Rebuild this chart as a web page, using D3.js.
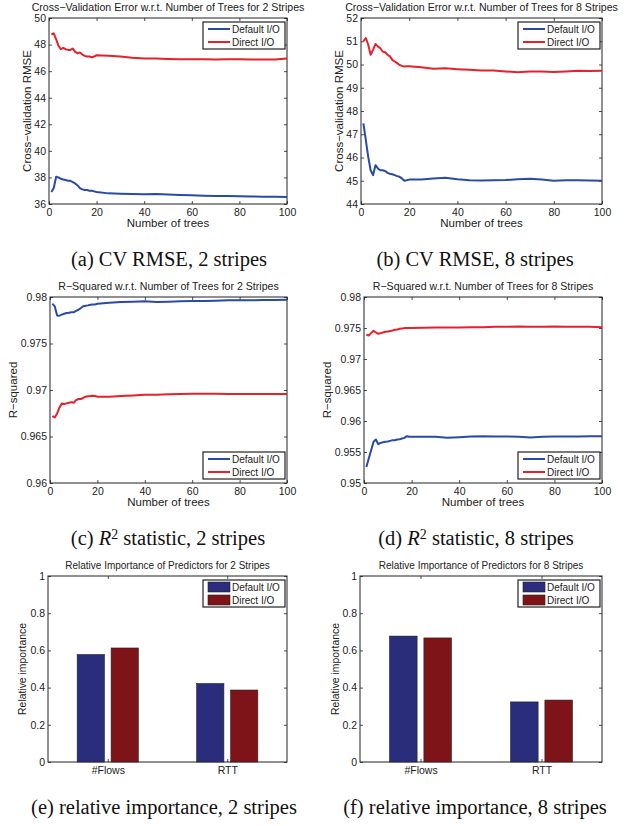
<!DOCTYPE html>
<html>
<head>
<meta charset="utf-8">
<script src="https://cdn.jsdelivr.net/npm/d3@7"></script>
<style>
  body { margin: 0; background: #fff; }
  svg { display: block; }
  .tick text { font-family: "Liberation Sans", Arial, sans-serif; fill: #222; }
  .domain { display: none; }
  .tick line { stroke: #222; stroke-width: 0.8; }
</style>
</head>
<body>
<script>
var trees = [1,2,3,4,5,6,7,8,9,10,11,12,13,14,15,16,17,18,19,20,25,30,35,40,45,50,55,60,65,70,75,80,85,90,95,100];

// (a) CV RMSE, 2 stripes
var rmse2Default = [36.9,37.2,38.05,38.0,37.9,37.85,37.8,37.75,37.75,37.65,37.55,37.4,37.2,37.1,37.05,37.05,37.0,37.0,36.95,36.9,36.8,36.78,36.75,36.73,36.75,36.72,36.68,36.65,36.62,36.6,36.6,36.58,36.57,36.55,36.55,36.52];
var rmse2Direct = [48.75,48.85,48.4,47.9,47.65,47.75,47.65,47.6,47.6,47.7,47.45,47.35,47.4,47.25,47.15,47.1,47.1,47.05,47.1,47.2,47.15,47.1,47.0,46.95,46.95,46.92,46.9,46.9,46.9,46.88,46.9,46.9,46.88,46.87,46.88,46.95];

// (b) CV RMSE, 8 stripes
var rmse8Default = [47.47,46.75,46.03,45.45,45.24,45.67,45.53,45.45,45.45,45.42,45.34,45.3,45.28,45.24,45.2,45.17,45.1,45.0,45.02,45.05,45.05,45.1,45.13,45.06,45.02,45.01,45.02,45.03,45.06,45.09,45.05,45.0,45.02,45.02,45.01,45.0];
var rmse8Direct = [51.0,51.14,50.85,50.42,50.63,50.88,50.78,50.7,50.56,50.53,50.42,50.35,50.2,50.13,50.06,49.98,49.94,49.91,49.92,49.92,49.88,49.82,49.84,49.8,49.77,49.74,49.74,49.7,49.67,49.7,49.7,49.68,49.7,49.73,49.72,49.73];

// (c) R-squared, 2 stripes
var r2s2Default = [0.97928,0.9790,0.97802,0.97799,0.9781,0.9782,0.97827,0.9783,0.97835,0.97835,0.9785,0.97863,0.97881,0.979,0.97906,0.9791,0.97917,0.9792,0.9792,0.97928,0.97939,0.97946,0.9795,0.97953,0.97946,0.9795,0.97953,0.97957,0.97957,0.9796,0.97964,0.97964,0.97964,0.97968,0.97968,0.97971];
var r2s2Direct = [0.96719,0.96705,0.96748,0.96813,0.96856,0.96849,0.96856,0.96863,0.9687,0.96863,0.96892,0.96903,0.96903,0.96914,0.96928,0.96932,0.96935,0.96939,0.96935,0.96928,0.96928,0.96935,0.96942,0.9695,0.9695,0.96953,0.96957,0.9696,0.9696,0.9696,0.96957,0.96957,0.96957,0.96957,0.96957,0.96957];

// (d) R-squared, 8 stripes
var r2s8Default = [0.95259,0.95394,0.95529,0.95664,0.95701,0.95626,0.95647,0.95658,0.95664,0.95669,0.9568,0.95691,0.95691,0.95701,0.95707,0.95718,0.95728,0.95755,0.95745,0.95745,0.95745,0.95745,0.95728,0.95739,0.9575,0.95755,0.9575,0.9575,0.95745,0.95734,0.95745,0.9575,0.9575,0.9575,0.95755,0.95755];
var r2s8Direct = [0.9739,0.97379,0.97417,0.97455,0.97428,0.97406,0.97417,0.97428,0.97439,0.97444,0.9745,0.9746,0.97471,0.97477,0.97487,0.97493,0.97498,0.97498,0.97498,0.97498,0.97504,0.9751,0.9751,0.9751,0.97514,0.97514,0.9752,0.9752,0.97525,0.9752,0.9752,0.97525,0.9752,0.9752,0.9752,0.97514];

// (e)/(f) relative importance of predictors
var predictors = ["#Flows", "RTT"];
var imp2Default = [0.578, 0.422];
var imp2Direct = [0.613, 0.387];
var imp8Default = [0.677, 0.323];
var imp8Direct = [0.667, 0.333];

var seriesNames = ["Default I/O", "Direct I/O"];
var lineColors = ["#2a4aa6", "#e8202a"];
var barColors = ["#2a2c7c", "#7f1418"];

var sans = "'Liberation Sans', Arial, sans-serif";
var serif = "'Liberation Serif', 'Times New Roman', serif";

var svg = d3.select("body").append("svg")
	.attr("width", 629)
	.attr("height", 826);

var fmt = function(d) { return String(+d.toFixed(4)); };

// draws the frame, mirrored ticks and labels of one panel
var drawFrame = function(g, x, y, o) {
	var x0 = x.range()[0], x1 = x.range()[1];
	var y0 = y.range()[0], y1 = y.range()[1];

	g.append("g")
		.attr("transform", "translate(0," + y0 + ")")
		.call(o.xAxis.tickSizeInner(-3).tickSizeOuter(0).tickPadding(5))
		.selectAll("text").style("font-size", o.tickFont + "px");
	g.append("g")
		.attr("transform", "translate(0," + y1 + ")")
		.call(o.xAxisTop.tickSizeInner(-3).tickSizeOuter(0).tickFormat(""));
	g.append("g")
		.attr("transform", "translate(" + x0 + ",0)")
		.call(d3.axisLeft(y).tickValues(o.yTicks).tickFormat(fmt).tickSizeInner(-3).tickSizeOuter(0).tickPadding(3))
		.selectAll("text").style("font-size", o.tickFont + "px");
	g.append("g")
		.attr("transform", "translate(" + x1 + ",0)")
		.call(d3.axisRight(y).tickValues(o.yTicks).tickSizeInner(-3).tickSizeOuter(0).tickFormat(""));

	g.append("rect")
		.attr("x", x0).attr("y", y1)
		.attr("width", x1 - x0).attr("height", y0 - y1)
		.attr("fill", "none").attr("stroke", "#222").attr("stroke-width", 1);

	g.append("text")
		.attr("x", (x0 + x1) / 2).attr("y", y1 - 7.5)
		.attr("text-anchor", "middle")
		.style("font-family", sans).style("font-size", o.titleFont + "px").style("fill", "#222")
		.text(o.title);

	if (o.xLabel) {
		g.append("text")
			.attr("x", (x0 + x1) / 2).attr("y", y0 + 23)
			.attr("text-anchor", "middle")
			.style("font-family", sans).style("font-size", "11.5px").style("fill", "#222")
			.text(o.xLabel);
	}
	g.append("text")
		.attr("transform", "translate(" + o.yLabelX + "," + ((y0 + y1) / 2) + ") rotate(-90)")
		.attr("text-anchor", "middle")
		.attr("dy", "0.35em")
		.style("font-family", sans).style("font-size", o.yLabelFont + "px").style("fill", "#222")
		.text(o.yLabel);
};

var drawLegend = function(g, bx, by, kind) {
	var w = 82, h = 27;
	g.append("rect")
		.attr("x", bx).attr("y", by).attr("width", w).attr("height", h)
		.attr("fill", "#fff").attr("stroke", "#222").attr("stroke-width", 1.2);
	seriesNames.forEach(function(name, i) {
		var cy = by + 7 + i * 13;
		if (kind === "line") {
			g.append("line")
				.attr("x1", bx + 5).attr("x2", bx + 27).attr("y1", cy).attr("y2", cy)
				.attr("stroke", lineColors[i]).attr("stroke-width", 2);
		} else {
			g.append("rect")
				.attr("x", bx + 5).attr("y", cy - 5).attr("width", 22).attr("height", 10)
				.attr("fill", barColors[i]).attr("stroke", "#222").attr("stroke-width", 0.6);
		}
		g.append("text")
			.attr("x", bx + 29).attr("y", cy).attr("dy", "0.36em")
			.style("font-family", sans).style("font-size", "10px").style("fill", "#222")
			.text(name);
	});
};

// subfigure caption, same Times size for all six
var drawCaption = function(cx, cy, parts) {
	var t = svg.append("text")
		.attr("x", cx).attr("y", cy)
		.attr("text-anchor", "middle")
		.style("font-family", serif).style("font-size", "20.5px").style("fill", "#111");
	parts.forEach(function(p) {
		var s = t.append("tspan").text(p.t);
		if (p.italic) s.style("font-style", "italic");
		if (p.sup) s.attr("dy", "-0.45em").style("font-size", "0.68em");
		if (p.down) s.attr("dy", "0.31em");
	});
};

var linePanel = function(o) {
	var g = svg.append("g");
	var x = d3.scaleLinear().domain([0, 100]).range([o.left, o.right]);
	var y = d3.scaleLinear().domain(o.yDomain).range([o.bottom, o.top]);
	drawFrame(g, x, y, {
		xAxis: d3.axisBottom(x).ticks(5),
		xAxisTop: d3.axisTop(x).ticks(5),
		yTicks: o.yTicks, tickFont: 10.5, titleFont: 10.6,
		title: o.title, xLabel: "Number of trees",
		yLabel: o.yLabel, yLabelX: o.yLabelX, yLabelFont: 11.5
	});
	var line = d3.line()
		.x(function(d, i) { return x(trees[i]); })
		.y(function(d) { return y(d); });
	[o.def, o.dir].forEach(function(vals, i) {
		g.append("path")
			.attr("d", line(vals))
			.attr("fill", "none")
			.attr("stroke", lineColors[i])
			.attr("stroke-width", 2)
			.attr("stroke-linejoin", "round");
	});
	var by = o.legendBottom ? o.bottom - 31 : o.top + 4;
	drawLegend(g, o.right - 84, by, "line");
};

var barPanel = function(o) {
	var g = svg.append("g");
	var x = d3.scaleLinear().domain([0.5, 2.5]).range([o.left, o.right]);
	var y = d3.scaleLinear().domain([0, 1]).range([o.bottom, o.top]);
	drawFrame(g, x, y, {
		xAxis: d3.axisBottom(x).tickValues([1, 2]).tickFormat(function(d) { return predictors[d - 1]; }),
		xAxisTop: d3.axisTop(x).tickValues([1, 2]),
		yTicks: [0, 0.2, 0.4, 0.6, 0.8, 1], tickFont: 10.5, titleFont: 10,
		title: o.title, xLabel: null,
		yLabel: "Relative importance", yLabelX: o.yLabelX, yLabelFont: 10.4
	});
	var bw = 0.228, off = 0.142;
	[o.def, o.dir].forEach(function(vals, s) {
		g.selectAll(null)
			.data(vals)
			.enter()
			.append("rect")
			.attr("x", function(d, i) { return x(i + 1 + (s === 0 ? -off : off) - bw / 2); })
			.attr("width", x(bw) - x(0))
			.attr("y", function(d) { return y(d); })
			.attr("height", function(d) { return y(0) - y(d); })
			.attr("fill", barColors[s])
			.attr("stroke", "#222")
			.attr("stroke-width", 0.6);
	});
	drawLegend(g, o.right - 84, o.top + 4, "bar");
};

linePanel({ left: 49, right: 287, top: 18, bottom: 204, yDomain: [36, 50], yTicks: d3.range(36, 51, 2),
	title: "Cross\u2212Validation Error w.r.t. Number of Trees for 2 Stripes", yLabel: "Cross\u2212validation RMSE", yLabelX: 27,
	def: rmse2Default, dir: rmse2Direct });
linePanel({ left: 361, right: 602, top: 18, bottom: 204, yDomain: [44, 52], yTicks: d3.range(44, 53, 1),
	title: "Cross\u2212Validation Error w.r.t. Number of Trees for 8 Stripes", yLabel: "Cross\u2212validation RMSE", yLabelX: 339,
	def: rmse8Default, dir: rmse8Direct });
linePanel({ left: 50, right: 287, top: 297, bottom: 483, yDomain: [0.96, 0.98], yTicks: [0.96, 0.965, 0.97, 0.975, 0.98],
	title: "R\u2212Squared w.r.t. Number of Trees for 2 Stripes", yLabel: "R\u2212squared", yLabelX: 13, legendBottom: true,
	def: r2s2Default, dir: r2s2Direct });
linePanel({ left: 364, right: 602, top: 297, bottom: 483, yDomain: [0.95, 0.98], yTicks: [0.95, 0.955, 0.96, 0.965, 0.97, 0.975, 0.98],
	title: "R\u2212Squared w.r.t. Number of Trees for 8 Stripes", yLabel: "R\u2212squared", yLabelX: 327, legendBottom: true,
	def: r2s8Default, dir: r2s8Direct });
barPanel({ left: 48, right: 287, top: 576, bottom: 762,
	title: "Relative Importance of Predictors for 2 Stripes", yLabelX: 22, def: imp2Default, dir: imp2Direct });
barPanel({ left: 360, right: 602, top: 576, bottom: 762,
	title: "Relative Importance of Predictors for 8 Stripes", yLabelX: 335, def: imp8Default, dir: imp8Direct });

drawCaption(169, 266, [{ t: "(a) CV RMSE, 2 stripes" }]);
drawCaption(475, 266, [{ t: "(b) CV RMSE, 8 stripes" }]);
drawCaption(168, 545, [{ t: "(c) " }, { t: "R", italic: true }, { t: "2", sup: true }, { t: " statistic, 2 stripes", down: true }]);
drawCaption(476, 545, [{ t: "(d) " }, { t: "R", italic: true }, { t: "2", sup: true }, { t: " statistic, 8 stripes", down: true }]);
drawCaption(164, 814, [{ t: "(e) relative importance, 2 stripes" }]);
drawCaption(475, 814, [{ t: "(f) relative importance, 8 stripes" }]);
</script>
</body>
</html>
